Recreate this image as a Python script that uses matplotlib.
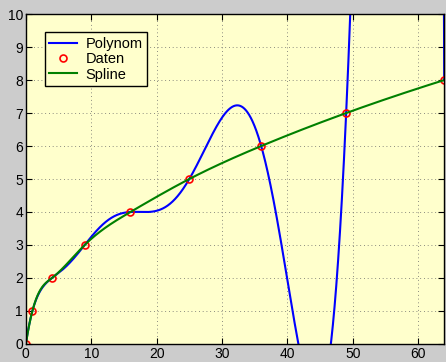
import numpy as np
import matplotlib
matplotlib.use("Agg")
import matplotlib.pyplot as plt

plt.rcParams['font.family'] = ['Liberation Sans', 'DejaVu Sans']

# Daten (Stützstellen)
x_daten = [0, 1, 4, 9, 16, 25, 36, 49, 64]
y_daten = [0, 1, 2, 3, 4, 5, 6, 7, 8]
x_ticks = [0, 10, 20, 30, 40, 50, 60]
y_ticks = [0, 1, 2, 3, 4, 5, 6, 7, 8, 9, 10]

xd = np.array(x_daten, dtype=float)
yd = np.array(y_daten, dtype=float)

# Interpolationspolynom vom Grad n-1 durch alle Punkte
poly = np.polynomial.Polynomial.fit(xd, yd, len(xd) - 1)


# kubischer Spline mit not-a-knot Randbedingung (wie MATLAB spline)
def spline_notaknot(x, y, xq):
    n = len(x)
    h = np.diff(x)
    A = np.zeros((n, n))
    r = np.zeros(n)
    A[0, 0], A[0, 1], A[0, 2] = h[1], -(h[0] + h[1]), h[0]
    A[-1, -3], A[-1, -2], A[-1, -1] = h[-1], -(h[-2] + h[-1]), h[-2]
    for i in range(1, n - 1):
        A[i, i - 1] = h[i - 1]
        A[i, i] = 2 * (h[i - 1] + h[i])
        A[i, i + 1] = h[i]
        r[i] = 6 * ((y[i + 1] - y[i]) / h[i] - (y[i] - y[i - 1]) / h[i - 1])
    M = np.linalg.solve(A, r)
    idx = np.clip(np.searchsorted(x, xq) - 1, 0, n - 2)
    x0, x1 = x[idx], x[idx + 1]
    hh = x1 - x0
    return (M[idx] * (x1 - xq) ** 3 / (6 * hh) + M[idx + 1] * (xq - x0) ** 3 / (6 * hh)
            + (y[idx] / hh - M[idx] * hh / 6) * (x1 - xq)
            + (y[idx + 1] / hh - M[idx + 1] * hh / 6) * (xq - x0))


xx = np.linspace(0, 64, 2000)

fig = plt.figure(figsize=(4.46, 3.62), dpi=100, facecolor='#cccccc')
ax = fig.add_axes([0.058, 0.05, 0.938, 0.911])
ax.set_facecolor('#ffffcc')

ax.plot(xx, poly(xx), color='#0000ff', lw=1.5, label='Polynom')
ax.plot(xd, yd, 'o', mfc='none', mec='#ff0000', ms=5, mew=1.2, label='Daten')
ax.plot(xx, spline_notaknot(xd, yd, xx), color='#008000', lw=1.5, label='Spline')

ax.set_xlim(0, 64)
ax.set_ylim(0, 10)
ax.set_xticks(x_ticks)
ax.set_yticks(y_ticks)
ax.tick_params(direction='in', top=True, right=True, labelsize=10, length=4, pad=2)
ax.grid(True, color='#666666', linestyle=(0, (1, 3.5)), linewidth=0.6)
for s in ax.spines.values():
    s.set_linewidth(1.0)

leg = ax.legend(loc='upper left', bbox_to_anchor=(0.045, 0.945), fontsize=10.5, frameon=True,
                fancybox=False, edgecolor='black', facecolor='#ffffcc', framealpha=1,
                handlelength=1.9, borderpad=0.3, labelspacing=0.1, handletextpad=0.6,
                borderaxespad=0.0)
leg.get_frame().set_linewidth(1.0)

fig.savefig('out.png', dpi=100, facecolor=fig.get_facecolor())
